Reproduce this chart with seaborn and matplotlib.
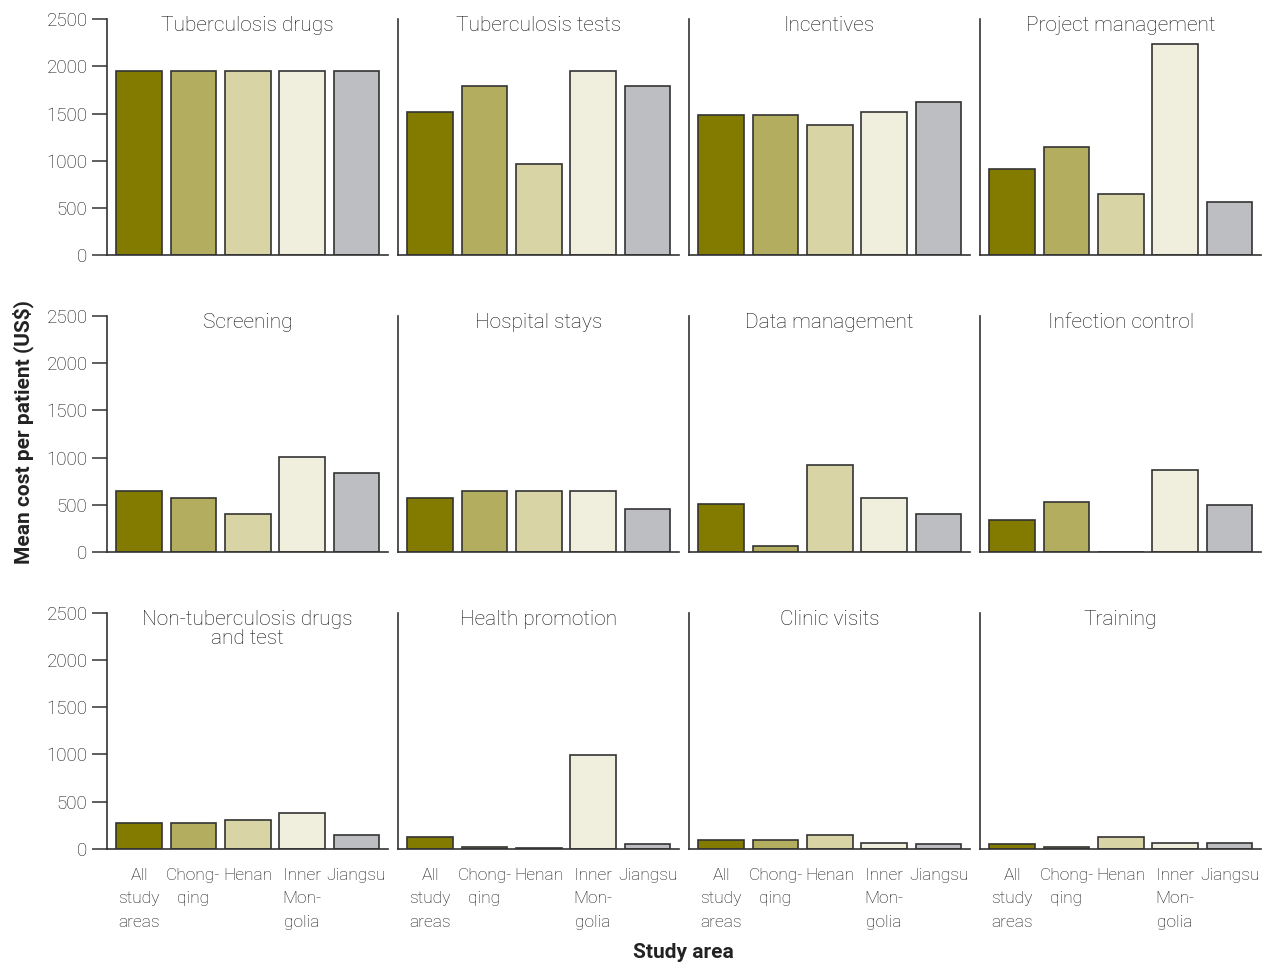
import pandas as pd
import matplotlib
matplotlib.use('Agg')
import matplotlib.pyplot as plt
import seaborn as sns

# study areas (x categories) and tick labels
areas = ['All study areas', 'Chongqing', 'Henan', 'Inner Mongolia', 'Jiangsu']
area_labels = ['All\nstudy\nareas', 'Chong-\nqing', 'Henan', 'Inner\nMon-\ngolia', 'Jiangsu']
area_colors = ['#827B00', '#B3AD5F', '#D8D4A5', '#F0EEDC', '#BDBEC2']

# panel titles, in reading order
panels = ['Tuberculosis drugs', 'Tuberculosis tests', 'Incentives', 'Project management',
          'Screening', 'Hospital stays', 'Data management', 'Infection control',
          'Non-tuberculosis drugs\nand test', 'Health promotion', 'Clinic visits', 'Training']

# mean cost per patient (US$)
tb_drugs = [1955, 1955, 1955, 1955, 1955]
tb_tests = [1520, 1795, 968, 1955, 1795]
incentives = [1480, 1480, 1375, 1520, 1625]
project_mgmt = [915, 1150, 650, 2230, 565]
screening = [645, 570, 400, 1005, 835]
hospital_stays = [570, 645, 645, 645, 455]
data_mgmt = [505, 64, 920, 572, 402]
infection_ctrl = [345, 535, 0, 868, 500]
non_tb_drugs = [275, 275, 307, 381, 148]
health_promo = [123, 18, 10, 995, 50]
clinic_visits = [92, 92, 145, 64, 53]
training = [53, 21, 127, 64, 64]

values = [tb_drugs, tb_tests, incentives, project_mgmt,
          screening, hospital_stays, data_mgmt, infection_ctrl,
          non_tb_drugs, health_promo, clinic_visits, training]

sns.set_style('white')
plt.rcParams['font.family'] = ['Roboto', 'DejaVu Sans']
text_col = '#111111'

fig, axes = plt.subplots(3, 4, figsize=(12.68, 9.67), dpi=100)
fig.subplots_adjust(left=0.0844, right=0.9945, top=0.9804, bottom=0.122,
                    wspace=0.036, hspace=0.255)

for i, ax in enumerate(axes.flatten()):
    df = pd.DataFrame({'area': areas, 'cost': values[i]})
    sns.barplot(data=df, x='area', y='cost', hue='area', palette=area_colors, saturation=1,
                width=0.84, edgecolor='#333333', linewidth=1.2, legend=False, ax=ax)
    ax.set_xlim(-0.59, 4.58)
    ax.set_ylim(0, 2500)
    ax.set_xlabel('')
    ax.set_ylabel('')
    sns.despine(ax=ax)
    for side in ['left', 'bottom']:
        ax.spines[side].set_color('#333333')
        ax.spines[side].set_linewidth(1.2)
    ax.text(0.5, 1.012, panels[i], transform=ax.transAxes, ha='center', va='top',
            fontsize=15, fontweight='light', color=text_col, linespacing=1.0)
    row, col = divmod(i, 4)
    if col == 0:
        ax.set_yticks([0, 500, 1000, 1500, 2000, 2500])
        ax.tick_params(axis='y', left=True, length=11, width=1.1, color='#333333',
                       labelsize=13.5, labelcolor=text_col, pad=3)
        for lab in ax.get_yticklabels():
            lab.set_fontweight('light')
    else:
        ax.set_yticks([])
    if row == 2:
        ax.set_xticks(range(len(areas)))
        ax.set_xticklabels(area_labels)
        ax.tick_params(axis='x', bottom=False, labelsize=12.5, labelcolor=text_col, pad=10)
        for lab in ax.get_xticklabels():
            lab.set_linespacing(1.7)
            lab.set_multialignment('center')
            lab.set_fontweight('light')
    else:
        ax.set_xticks([])

fig.text(0.018, 0.553, 'Mean cost per patient (US$)', rotation=90, ha='center', va='center',
         fontsize=15, fontweight='bold', color='#222222')
fig.text(0.539, 0.015, 'Study area', ha='center', va='center',
         fontsize=15, fontweight='bold', color='#222222')

fig.savefig('out.png', dpi=100)
